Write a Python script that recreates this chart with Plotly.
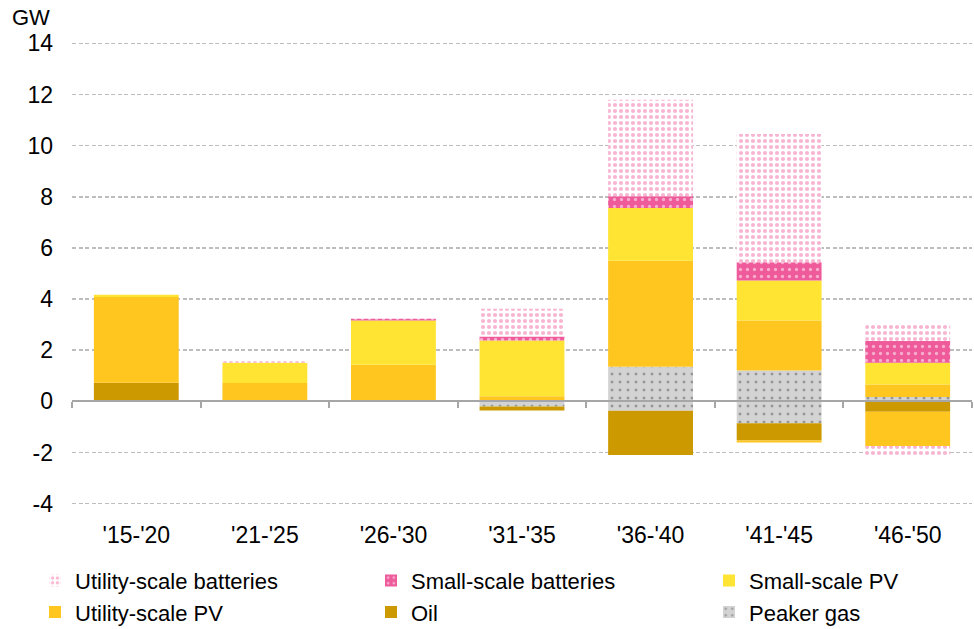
import plotly.graph_objects as go

categories = ["'15-'20", "'21-'25", "'26-'30", "'31-'35", "'36-'40", "'41-'45", "'46-'50"]

# Additions (positive, GW)
peaker_add = [0, 0, 0, 0, 1.35, 1.21, 0.17]
oil_add = [0.73, 0, 0, 0, 0, 0, 0]
utility_pv_add = [3.35, 0.72, 1.43, 0.20, 4.15, 1.95, 0.49]
small_pv_add = [0.09, 0.79, 1.73, 2.18, 2.06, 1.57, 0.85]
small_batt_add = [0, 0, 0.07, 0.16, 0.46, 0.71, 0.85]
utility_batt_add = [0, 0.08, 0, 1.08, 3.77, 5.01, 0.63]

# Retirements (negative, GW)
peaker_ret = [0, 0, 0, -0.20, -0.37, -0.85, 0]
oil_ret = [0, 0, 0, -0.16, -1.73, -0.68, -0.40]
utility_pv_ret = [0, 0, 0, 0, 0, -0.08, -1.34]
utility_batt_ret = [0, 0, 0, 0, -0.05, 0, -0.39]

y_ticks = [-4, -2, 0, 2, 4, 6, 8, 10, 12, 14]
y_tick_labels = [str(v) for v in y_ticks]

FONT = "Liberation Sans, Arial, sans-serif"

styles = {
    "Peaker gas": dict(color="#D3D3D3", pattern=dict(shape=".", bgcolor="#D3D3D3", fgcolor="#5A5A5A", size=8, solidity=0.11), legend="legend3"),
    "Oil": dict(color="#CC9900", pattern=None, legend="legend2"),
    "Utility-scale PV": dict(color="#FFC620", pattern=None, legend="legend"),
    "Small-scale PV": dict(color="#FFE433", pattern=None, legend="legend3"),
    "Small-scale batteries": dict(color="#EE5A9A", pattern=dict(shape=".", bgcolor="#EE5A9A", fgcolor="#FFFFFF", size=7, solidity=0.18), legend="legend2"),
    "Utility-scale batteries": dict(color="#FFFFFF", pattern=dict(shape=".", bgcolor="#FFFFFF", fgcolor="#F06CA6", size=6, solidity=0.38), legend="legend"),
}

positive = [
    ("Peaker gas", peaker_add),
    ("Oil", oil_add),
    ("Utility-scale PV", utility_pv_add),
    ("Small-scale PV", small_pv_add),
    ("Small-scale batteries", small_batt_add),
    ("Utility-scale batteries", utility_batt_add),
]
negative = [
    ("Peaker gas", peaker_ret),
    ("Oil", oil_ret),
    ("Utility-scale PV", utility_pv_ret),
    ("Utility-scale batteries", utility_batt_ret),
]

fig = go.Figure()


def marker_for(name):
    st = styles[name]
    m = dict(color=st["color"], line=dict(width=0))
    if st["pattern"]:
        m["pattern"] = st["pattern"]
    return m


for name, vals in positive:
    fig.add_trace(go.Bar(
        x=categories, y=vals, name=name, legendgroup=name,
        legend=styles[name]["legend"], marker=marker_for(name),
        showlegend=True, hoverinfo="skip",
    ))
for name, vals in negative:
    fig.add_trace(go.Bar(
        x=categories, y=vals, name=name, legendgroup=name,
        legend=styles[name]["legend"], marker=marker_for(name),
        showlegend=False, hoverinfo="skip",
    ))

# invisible helper trace so the zero-line axis gets its categories
fig.add_trace(go.Scatter(
    x=categories, y=[0] * len(categories), xaxis="x2", yaxis="y",
    mode="markers", marker=dict(opacity=0), showlegend=False, hoverinfo="skip",
))

Y_MIN, Y_MAX = -4.05, 14.05
zero_pos = (0 - Y_MIN) / (Y_MAX - Y_MIN)

legend_common = dict(
    orientation="v", traceorder="reversed", xanchor="left", yanchor="top",
    font=dict(family=FONT, size=22, color="#000000"), bgcolor="rgba(0,0,0,0)",
    itemclick=False, itemdoubleclick=False,
)
LEG_Y = -0.118

fig.update_layout(
    width=974, height=629,
    margin=dict(l=72, r=2, t=42, b=124, autoexpand=False),
    paper_bgcolor="white", plot_bgcolor="white",
    barmode="relative", bargap=0.34,
    font=dict(family=FONT, size=22, color="#000000"),
    xaxis=dict(
        type="category", categoryorder="array", categoryarray=categories,
        range=[-0.5, len(categories) - 0.5],
        showgrid=False, showline=False, zeroline=False, ticks="",
        tickfont=dict(family=FONT, size=23, color="#000000"),
        ticklabelstandoff=14,
    ),
    xaxis2=dict(
        type="category", categoryorder="array", categoryarray=categories,
        range=[-0.5, len(categories) - 0.5],
        overlaying="x", anchor="free", position=zero_pos, side="bottom",
        showgrid=False, zeroline=False, showline=True,
        linecolor="#A6A6A6", linewidth=2,
        ticks="outside", tickson="boundaries", ticklen=6, tickwidth=2, tickcolor="#A6A6A6",
        showticklabels=False,
    ),
    yaxis=dict(
        range=[Y_MIN, Y_MAX], tickvals=y_ticks, ticktext=y_tick_labels,
        showgrid=True, gridcolor="#BDBDBD", gridwidth=1.5, griddash="4px,2.5px",
        zeroline=False, showline=False, ticks="",
        tickfont=dict(family=FONT, size=23, color="#000000"),
        ticklabelstandoff=18,
    ),
    legend=dict(x=(35 - 72) / 900, y=LEG_Y, **legend_common),
    legend2=dict(x=(371 - 72) / 900, y=LEG_Y, **legend_common),
    legend3=dict(x=(709 - 72) / 900, y=LEG_Y, **legend_common),
    annotations=[dict(
        text="GW", xref="paper", yref="paper", x=(52 - 72) / 900, y=1.052,
        xanchor="right", yanchor="middle", showarrow=False,
        font=dict(family=FONT, size=22, color="#000000"),
    )],
)

fig.write_html(
    "out.html",
    config={"displayModeBar": False, "staticPlot": True},
    post_script="document.body.style.margin='0';document.body.style.padding='0';",
)
